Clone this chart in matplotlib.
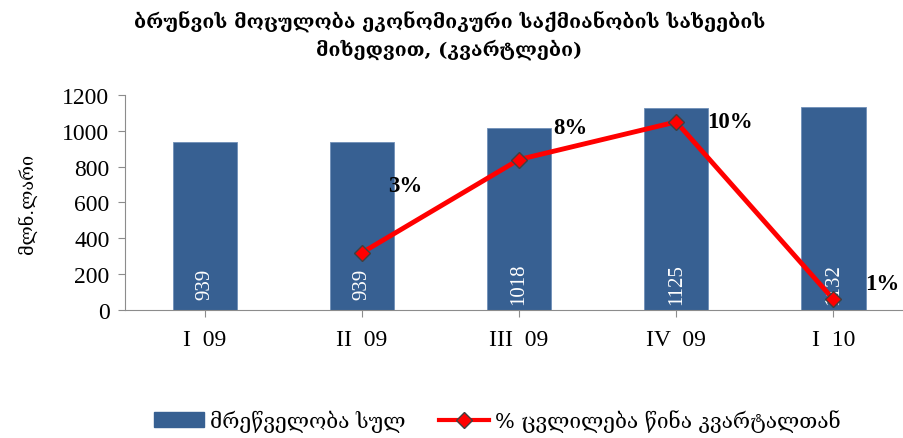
import matplotlib
matplotlib.use("Agg")
import matplotlib.pyplot as plt
from matplotlib.lines import Line2D
from matplotlib.patches import Patch

categories = ["I  09", "II  09", "III  09", "IV  09", "I  10"]
turnover = [939, 939, 1018, 1125, 1132]
pct_x = [1, 2, 3, 4]
pct_change = [0.032, 0.084, 0.105, 0.006]
pct_labels = ["3%", "8%", "10%", "1%"]

title = "ბრუნვის მოცულობა ეკონომიკური საქმიანობის სახეების\nმიხედვით, (კვარტლები)"
ylabel = "მლნ.ლარი"
leg_bar = "მრეწველობა სულ"
leg_line = "% ცვლილება წინა კვარტალთან"

GEO = ["DejaVu Serif", "DejaVu Sans"]
SERIF = ["Liberation Serif", "DejaVu Serif"]

fig = plt.figure(figsize=(9.04, 4.39), dpi=100)
ax = fig.add_axes([0.138, 0.2916, 0.862, 0.4897])

bar_color = "#376092"
x = list(range(len(categories)))
ax.bar(x, turnover, width=0.41, color=bar_color, edgecolor="#6f8fb8", linewidth=0.6, zorder=2)
for xi, v in zip(x, turnover):
    ax.text(xi, 150, str(v), rotation=90, ha="center", va="center",
            color="white", fontsize=15, family=SERIF, zorder=3)

ax.set_xlim(-0.51, 4.45)
ax.set_ylim(0, 1200)
ax.set_yticks(range(0, 1201, 200))
ax.set_xticks(x)
ax.set_xticklabels(categories, family=SERIF, fontsize=17)
for lab in ax.get_yticklabels():
    lab.set_family(SERIF)
    lab.set_fontsize(17)
for s in ["top", "right"]:
    ax.spines[s].set_visible(False)
for s in ["left", "bottom"]:
    ax.spines[s].set_color("#8c8c8c")
ax.tick_params(axis="both", colors="#8c8c8c", labelcolor="black", direction="out", length=5)
ax.tick_params(axis="x", pad=9)
ax.tick_params(axis="y", pad=6)
ax.set_ylabel(ylabel, family=GEO, fontsize=13, labelpad=18)

ax2 = ax.twinx()
ax2.set_ylim(0, 0.12)
ax2.axis("off")
ax2.plot(pct_x, pct_change, color="#ff0000", lw=3.5, marker="D", markersize=8,
         markerfacecolor="#ff0000", markeredgecolor="#404040", markeredgewidth=1, zorder=4)
offsets = [(43, 67), (51, 32), (54, 0), (49, 16)]
for xi, v, t, off in zip(pct_x, pct_change, pct_labels, offsets):
    ax2.annotate(t, (xi, v), xytext=off, textcoords="offset pixels", ha="center", va="center",
                 fontsize=16.5, fontweight="bold", family=SERIF)

fig.text(0.497, 0.92, title, ha="center", va="center", fontsize=14, fontweight="bold",
         family=GEO, linespacing=1.45)

handles = [Patch(facecolor=bar_color, edgecolor=bar_color),
           Line2D([0], [0], color="#ff0000", lw=3, marker="D", markersize=8,
                  markerfacecolor="#ff0000", markeredgecolor="#404040")]
fig.legend(handles, [leg_bar, leg_line], loc="center", bbox_to_anchor=(0.55, 0.04), ncol=2,
           frameon=False, prop={"family": GEO, "size": 15}, handlelength=2.4,
           columnspacing=1.6, handletextpad=0.3)

fig.savefig("out.png", dpi=100)
